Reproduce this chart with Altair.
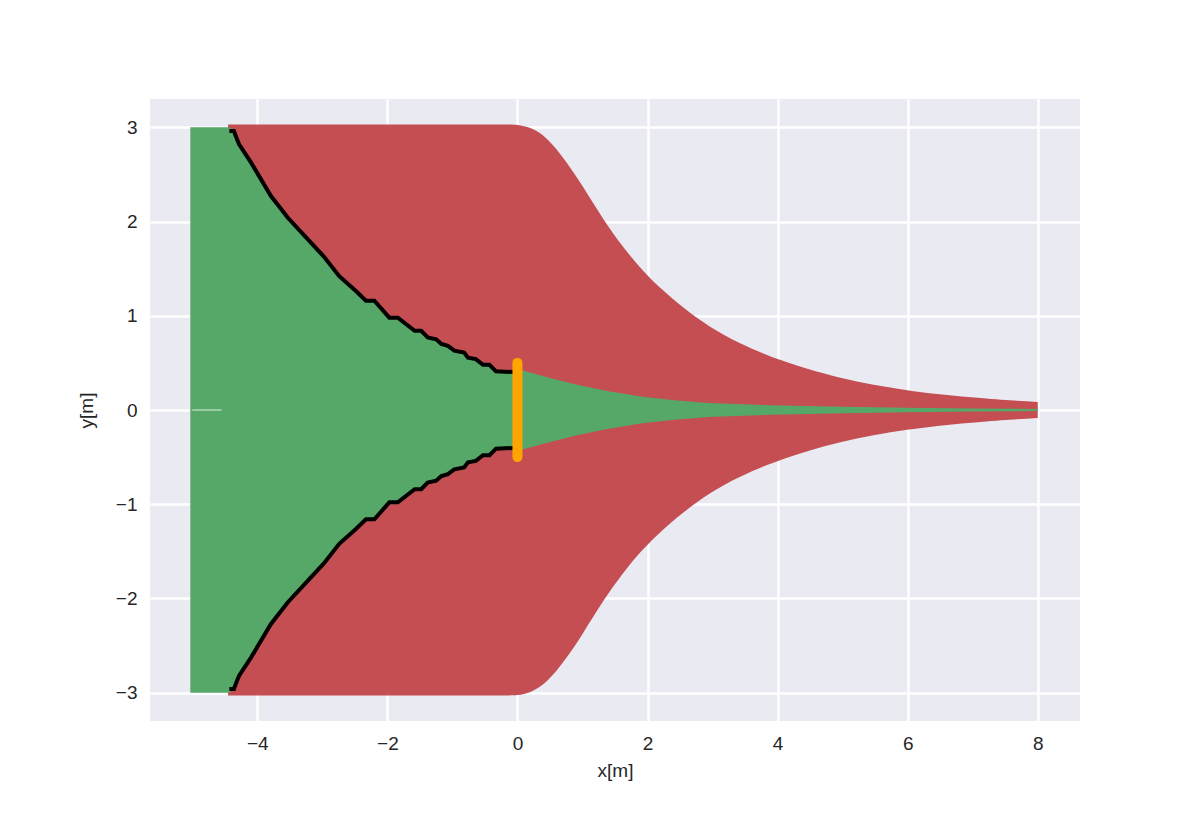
import altair as alt
import pandas as pd

# Upper envelope of the red (blocked rays) region; lower is the mirror
red_x = [-4.45, -2.0, -0.2, 0.0, 0.2, 0.45, 0.75, 1.0, 1.31, 1.62, 1.92, 2.23, 2.54,
         2.95, 3.4, 4.0, 4.95, 6.0, 7.0, 7.6, 8.0]
red_top = [3.03, 3.03, 3.03, 3.03, 3.0, 2.9, 2.64, 2.38, 2.03, 1.73, 1.48, 1.27, 1.09,
           0.88, 0.71, 0.53, 0.33, 0.2, 0.13, 0.1, 0.085]

# Upper envelope of the green (passing rays) region
green_x = [-5.03, -4.43, -4.36, -4.31, -4.1, -3.79, -3.53, -3.29, -2.98, -2.74,
           -2.48, -2.33, -2.2, -1.97, -1.84, -1.58, -1.48, -1.38, -1.25, -1.17,
           -1.07, -0.97, -0.82, -0.76, -0.64, -0.53, -0.43, -0.33, 0.03,
           0.08, 0.5, 0.9, 1.4, 1.92, 2.45, 2.95, 3.9, 5.0, 6.0, 7.0, 8.0]
green_top = [3.0, 3.0, 2.96, 2.87, 2.63, 2.27, 2.04, 1.86, 1.63, 1.42,
             1.26, 1.16, 1.16, 0.98, 0.98, 0.84, 0.84, 0.77, 0.75, 0.70,
             0.68, 0.63, 0.61, 0.555, 0.54, 0.48, 0.48, 0.41, 0.40,
             0.42, 0.34, 0.27, 0.20, 0.14, 0.10, 0.075, 0.05, 0.034, 0.024, 0.017, 0.011]

# Boundary (black staircase line), upper half; lower half mirrored
black_x = [-4.43, -4.36, -4.31, -4.28, -4.1, -3.79, -3.53, -3.29, -2.98, -2.74,
           -2.48, -2.33, -2.2, -1.97, -1.84, -1.58, -1.48, -1.38, -1.25, -1.17,
           -1.07, -0.97, -0.82, -0.76, -0.64, -0.53, -0.43, -0.33, 0.03]
black_y = [2.96, 2.96, 2.87, 2.82, 2.63, 2.27, 2.04, 1.86, 1.63, 1.42,
           1.26, 1.16, 1.16, 0.98, 0.98, 0.84, 0.84, 0.77, 0.75, 0.70,
           0.68, 0.63, 0.61, 0.555, 0.54, 0.48, 0.48, 0.41, 0.40]

# Aperture (orange bar)
aperture_x = [0.0]
aperture_lo = [-0.5]
aperture_hi = [0.5]

# small gap streak at the source
streak_x = [-5.0]
streak_x2 = [-4.55]
streak_y = [0.0]

x_ticks = [-4, -2, 0, 2, 4, 6, 8]
y_ticks = [-3, -2, -1, 0, 1, 2, 3]

RED = "#C44E52"
GREEN = "#55A868"

red_df = pd.DataFrame({"x": red_x, "top": red_top, "bot": [-v for v in red_top]})
green_df = pd.DataFrame({"x": green_x, "top": green_top, "bot": [-v for v in green_top]})
black_df = pd.DataFrame({
    "x": black_x + black_x,
    "y": black_y + [-v for v in black_y],
    "side": ["up"] * len(black_x) + ["down"] * len(black_x),
    "i": list(range(len(black_x))) * 2,
})
ap_df = pd.DataFrame({"x": aperture_x, "lo": aperture_lo, "hi": aperture_hi})
streak_df = pd.DataFrame({"x": streak_x, "x2": streak_x2, "y": streak_y})

xscale = alt.Scale(domain=[-5.65, 8.65], nice=False, zero=False)
yscale = alt.Scale(domain=[-3.3, 3.3], nice=False, zero=False)

xaxis = alt.Axis(values=x_ticks, title="x[m]", format="d")
yaxis = alt.Axis(values=y_ticks, title="y[m]", format="d")

red = alt.Chart(red_df).mark_area(color=RED, interpolate="basis", opacity=1).encode(
    x=alt.X("x:Q", scale=xscale, axis=xaxis),
    y=alt.Y("top:Q", scale=yscale, axis=yaxis),
    y2="bot:Q",
)

green = alt.Chart(green_df).mark_area(color=GREEN, interpolate="linear", opacity=1).encode(
    x=alt.X("x:Q", scale=xscale),
    y=alt.Y("top:Q", scale=yscale),
    y2="bot:Q",
)

streak = alt.Chart(streak_df).mark_rule(color="#ffffff", strokeWidth=1.2, opacity=0.7).encode(
    x=alt.X("x:Q", scale=xscale),
    x2="x2:Q",
    y=alt.Y("y:Q", scale=yscale),
)

black = alt.Chart(black_df).mark_line(color="black", strokeWidth=4, strokeJoin="miter").encode(
    x=alt.X("x:Q", scale=xscale),
    y=alt.Y("y:Q", scale=yscale),
    detail="side:N",
    order="i:Q",
)

aperture = alt.Chart(ap_df).mark_rule(color="#FFA500", strokeWidth=10, strokeCap="round").encode(
    x=alt.X("x:Q", scale=xscale),
    y=alt.Y("lo:Q", scale=yscale),
    y2="hi:Q",
)

chart = alt.layer(red, green, streak, black, aperture).properties(
    width=930,
    height=622,
    autosize=alt.AutoSizeParams(type="none"),
    padding={"left": 142, "top": 91, "right": 112, "bottom": 96},
    background="white",
).configure_view(
    fill="#EAEAF2", stroke=None
).configure_axis(
    grid=True,
    gridColor="white",
    gridWidth=2.5,
    domain=False,
    ticks=False,
    labelFont="Liberation Sans",
    labelFontSize=19,
    labelColor="#262626",
    labelPadding=13,
    titleFont="Liberation Sans",
    titleFontSize=19,
    titleFontWeight="normal",
    titleColor="#262626",
).configure_axisX(
    titlePadding=8,
).configure_axisY(
    titlePadding=19,
)

chart.save("out.html", embed_options={"renderer": "svg", "actions": False})
